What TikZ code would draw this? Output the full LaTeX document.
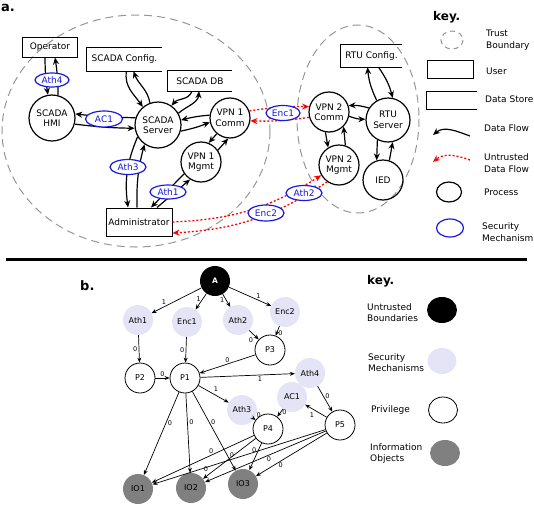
\documentclass[tikz,border=0pt]{standalone}
\usepackage{fontspec}
\setmainfont{DejaVu Sans}
\usetikzlibrary{arrows.meta,shapes.geometric}
\definecolor{secblue}{RGB}{25,25,225}
\definecolor{lav}{RGB}{228,228,246}
\definecolor{iogray}{RGB}{128,128,128}
\definecolor{bgray}{RGB}{150,150,150}
\begin{document}
\begin{tikzpicture}[x=1pt,y=-1pt,
  fa/.style={font=\fontsize{9}{10.5}\selectfont},
  proc/.style={circle,draw,line width=1.2pt,minimum size=40pt,inner sep=0pt,align=center,fa},
  userbox/.style={rectangle,draw,line width=1pt,inner sep=0pt,fa},
  storebox/.style={rectangle,inner sep=0pt,fa},
  secm/.style={ellipse,draw=secblue,line width=1.2pt,fill=white,text=secblue,inner sep=0pt,minimum width=35pt,minimum height=15pt,fa},
  flow/.style={-{Stealth[length=7pt,width=6pt]},line width=1.2pt},
  uflow/.style={-{Stealth[length=7pt,width=6pt]},draw=red,line width=1.3pt,dash pattern=on 2pt off 2pt},
  bound/.style={draw=bgray,line width=1pt,dash pattern=on 8pt off 5pt},
  keytxt/.style={anchor=west,align=left,inner sep=0pt,font=\fontsize{9}{11.5}\selectfont},
  keyhead/.style={anchor=west,inner sep=0pt,font=\fontsize{12}{13}\selectfont\bfseries},
  fb/.style={font=\fontsize{8}{9}\selectfont},
  bsec/.style={circle,fill=lav,minimum size=30pt,inner sep=0pt,fb},
  bproc/.style={circle,draw,fill=white,line width=0.8pt,minimum size=30pt,inner sep=0pt,fb},
  bio/.style={circle,fill=iogray,minimum size=30pt,inner sep=0pt,fb},
  bunt/.style={circle,fill=black,text=white,minimum size=30pt,inner sep=0pt,font=\fontsize{7.5}{8}\selectfont\bfseries},
  barr/.style={-{Stealth[length=5pt,width=4pt]},line width=0.7pt},
  lbl/.style={font=\fontsize{6.5}{7}\selectfont,inner sep=1.5pt}
]
\useasboundingbox (0,0) rectangle (534,506);

% ---------------- part a ----------------
\node[anchor=base west,inner sep=0pt,font=\fontsize{13}{14}\selectfont\bfseries] (alab) at (1,11) {a.};

\draw[bound] (136,131) ellipse [x radius=134, y radius=116];
\draw[bound] (358,119) ellipse [x radius=61, y radius=94];

\node[userbox,minimum width=55pt,minimum height=20pt] (op) at (50,47) {Operator};
\node[proc,minimum size=46pt] (hmi) at (52,118) {SCADA\\HMI};
\node[proc,minimum size=46pt] (srv) at (158,125) {SCADA\\Server};
\node[storebox,minimum width=75pt,minimum height=23pt] (cfg) at (124.5,59.5) {SCADA Config.};
\node[storebox,minimum width=64pt,minimum height=20pt] (db) at (200,81) {SCADA DB};
\node[proc] (c1) at (230,118) {VPN 1\\Comm};
\node[proc] (m1) at (201,162) {VPN 1\\Mgmt};
\node[userbox,minimum width=66pt,minimum height=28pt] (adm) at (139,222) {Administrator};
\node[proc] (c2) at (329,112) {VPN 2\\Comm};
\node[proc] (m2) at (339,165) {VPN 2\\Mgmt};
\node[proc,minimum size=44pt] (rs) at (388,120) {RTU\\Server};
\node[proc] (ied) at (383,180) {IED};
\node[storebox,minimum width=61pt,minimum height=22pt] (rcfg) at (371.5,56) {RTU Config.};

\draw[line width=1pt] (cfg.north east) -- (cfg.north west) -- (cfg.south west) -- (cfg.south east);
\draw[line width=1pt] (db.north east) -- (db.north west) -- (db.south west) -- (db.south east);
\draw[line width=1pt] (rcfg.north east) -- (rcfg.north west) -- (rcfg.south west) -- (rcfg.south east);

% flows
\draw[flow] ([xshift=-5pt]op.south) to[bend right=4] (hmi.100);
\draw[flow] (hmi.75) to[bend right=4] ([xshift=5pt]op.south);
\draw[flow] (srv.162) to[bend left=3] (hmi.10);
\draw[flow] (hmi.-15) to[bend right=3] (srv.-172);
\draw[flow] ([xshift=2pt]cfg.south) to[out=-100,in=125] (srv.130);
\draw[flow] (srv.110) to[out=100,in=-70] ([xshift=9pt]cfg.south);
\draw[flow] ([xshift=-8pt]db.south) to[out=-110,in=50] (srv.55);
\draw[flow] (srv.30) to[out=40,in=-95] ([xshift=-1pt]db.south);
\draw[flow] (c1.172) to[bend right=5] (srv.12);
\draw[flow] (srv.-15) to[bend right=5] (c1.-168);
\draw[flow] (c1.-130) -- (m1.68);
\draw[flow] (m1.35) -- (c1.-95);
\draw[flow] (srv.-150) to[bend right=15] ([xshift=-11pt]adm.north);
\draw[flow] ([xshift=-2pt]adm.north) to[bend left=8] (srv.-125);
\draw[flow] ([xshift=18pt]adm.north) -- (m1.-122);
\draw[flow] (m1.-145) -- ([xshift=12pt]adm.north);
\draw[uflow] (c1.20) to[bend left=5] (c2.165);
\draw[uflow] (c2.-165) to[bend left=5] (c1.-8);
\draw[uflow] (adm.east) to[bend right=15] (m2.-150);
\draw[uflow] (m2.-125) to[bend left=15] ([yshift=-11pt]adm.east);
\draw[flow] (rs.148) to[bend right=10] (c2.18);
\draw[flow] (c2.-12) to[bend right=10] (rs.178);
\draw[flow] (c2.-100) -- (m2.122);
\draw[flow] (m2.72) -- (c2.-45);
\draw[flow] (rs.120) to[bend left=10] ([xshift=-4pt]rcfg.south);
\draw[flow] ([xshift=7pt]rcfg.south) to[bend left=10] (rs.78);
\draw[flow] (rs.-118) -- (ied.108);
\draw[flow] (ied.72) -- (rs.-78);

% security mechanisms
\node[secm,minimum width=34pt,minimum height=14pt] (ath4) at (52,80) {Ath4};
\node[secm,minimum width=37pt,minimum height=16pt] (ac1) at (104,119) {AC1};
\node[secm,minimum width=36pt] (ath3) at (128,167) {Ath3};
\node[secm,minimum width=36pt,minimum height=14pt] (ath1) at (168,192) {Ath1};
\node[secm,minimum width=34pt] (enc1) at (283,113) {Enc1};
\node[secm,minimum width=36pt,minimum height=16pt] (enc2) at (266,213) {Enc2};
\node[secm,minimum width=36pt] (ath2) at (304,193) {Ath2};

% key a
\node[keyhead] (keya) at (433,17) {key.};
\draw[bound,dash pattern=on 5pt off 4pt] (452,40) ellipse [x radius=11, y radius=9];
\node[keytxt] (kt1) at (486,40) {Trust\\Boundary};
\node[draw,line width=1pt,minimum width=46pt,minimum height=18pt,inner sep=0pt] (kuser) at (450,69) {};
\node[keytxt] (kt2) at (486,71) {User};
\node[minimum width=50pt,minimum height=17pt,inner sep=0pt] (kstore) at (452,100.5) {};
\draw[line width=1pt] (kstore.north east) -- (kstore.north west) -- (kstore.south west) -- (kstore.south east);
\node[keytxt] (kt3) at (485,99) {Data Store};
\coordinate (kf1) at (470,136);
\coordinate (kf2) at (433,135);
\draw[flow] (kf1) to[out=160,in=40] (kf2);
\node[keytxt] (kt4) at (484,128) {Data Flow};
\coordinate (ku1) at (470,160);
\coordinate (ku2) at (433,162);
\draw[uflow] (ku1) to[out=160,in=40] (ku2);
\node[keytxt] (kt5) at (484,163) {Untrusted\\Data Flow};
\node[ellipse,draw,line width=1.2pt,minimum width=25pt,minimum height=20pt,inner sep=0pt] (kproc) at (449,192) {};
\node[keytxt] (kt6) at (484,192) {Process};
\node[ellipse,draw=secblue,line width=1.2pt,minimum width=27pt,minimum height=18pt,inner sep=0pt] (ksec) at (450,228) {};
\node[keytxt] (kt7) at (482,232) {Security\\Mechanism};

% separator
\coordinate (sepL) at (6,259);
\coordinate (sepR) at (527,259);
\draw[line width=3pt] (sepL) -- (sepR);

% ---------------- part b ----------------
\node[anchor=base west,inner sep=0pt,font=\fontsize{13}{14}\selectfont\bfseries] (blab) at (80,290) {b.};

\node[bunt] (bA) at (215,281) {A};
\node[bsec] (bAth1) at (138,320) {Ath1};
\node[bsec] (bEnc1) at (187,322) {Enc1};
\node[bsec] (bAth2) at (238,320) {Ath2};
\node[bsec] (bEnc2) at (285,312) {Enc2};
\node[bproc] (bP3) at (270,350) {P3};
\node[bproc] (bP2) at (140,378) {P2};
\node[bproc] (bP1) at (185,378) {P1};
\node[bsec] (bAth4) at (310,373) {Ath4};
\node[bsec] (bAC1) at (292,397) {AC1};
\node[bsec] (bAth3) at (242,410) {Ath3};
\node[bproc] (bP4) at (268,429) {P4};
\node[bproc] (bP5) at (340,425) {P5};
\node[bio] (bIO1) at (138,489) {IO1};
\node[bio] (bIO2) at (191,488) {IO2};
\node[bio] (bIO3) at (243,484) {IO3};

\draw[barr] (bA) -- node[lbl,pos=0.75,above] {1} (bAth1);
\draw[barr] (bA) -- node[lbl,pos=0.35,left] {1} (bEnc1);
\draw[barr] (bA) -- node[lbl,pos=0.45,left] {1} (bAth2);
\draw[barr] (bA) -- node[lbl,pos=0.7,above] {1} (bEnc2);
\draw[barr] (bAth1) -- node[lbl,pos=0.5,left] {0} (bP2);
\draw[barr] (bEnc1) -- node[lbl,pos=0.5,left] {0} (bP1);
\draw[barr] (bAth2) -- node[lbl,pos=0.6,below left] {0} (bP3);
\draw[barr] (bEnc2) -- node[lbl,pos=0.75,right] {0} (bP3);
\draw[barr] (bP3) -- node[lbl,pos=0.5,above] {0} (bP1);
\draw[barr] (bP2) -- node[lbl,pos=0.5,above] {0} (bP1);
\draw[barr] (bP1) -- node[lbl,pos=0.63,below] {1} (bAth4);
\draw[barr] (bP1) -- node[lbl,pos=0.45,above right] {1} (bAth3);
\draw[barr] (bAth4) -- node[lbl,pos=0.4,right] {0} (bP5);
\draw[barr] (bP5) -- node[lbl,pos=0.5,below left] {1} (bAC1);
\draw[barr] (bAC1) -- node[lbl,pos=0.4,right] {0} (bP4);
\draw[barr] (bAth3) -- node[lbl,pos=0.3,above right] {0} (bP4);
\draw[barr] (bP1) -- node[lbl,pos=0.37,right] {0} (bIO1);
\draw[barr] (bP1) -- node[lbl,pos=0.36,right] {0} (bIO2);
\draw[barr] (bP1) -- node[lbl,pos=0.39,right] {0} (bIO3);
\draw[barr] (bP4) -- node[lbl,pos=0.42,above] {0} (bIO1);
\draw[barr] (bP4) -- node[lbl,pos=0.87,above left] {0} (bIO2);
\draw[barr] (bP4) -- node[lbl,pos=0.28,left] {0} (bIO3);
\draw[barr] (bP5) -- node[lbl,pos=0.54,above] {0} (bIO1);
\draw[barr] (bP5) -- node[lbl,pos=0.47,below] {0} (bIO2);
\draw[barr] (bP5) -- node[lbl,pos=0.65,below] {0} (bIO3);

% key b
\node[keyhead] (keyb) at (367,281) {key.};
\node[keytxt] (kb1) at (367,312.5) {Untrusted\\Boundaries};
\node[ellipse,fill=black,minimum width=30pt,minimum height=26pt,inner sep=0pt] (kbu) at (442,310) {};
\node[keytxt] (kb2) at (368,362.5) {Security\\Mechanisms};
\node[ellipse,fill=lav,minimum width=29pt,minimum height=26pt,inner sep=0pt] (kbs) at (442,361) {};
\node[keytxt] (kb3) at (371,410) {Privilege};
\node[ellipse,draw,line width=0.8pt,minimum width=29pt,minimum height=26pt,inner sep=0pt] (kbp) at (443,410) {};
\node[keytxt] (kb4) at (370,453.5) {Information\\Objects};
\node[ellipse,fill=iogray,minimum width=30pt,minimum height=26pt,inner sep=0pt] (kbi) at (445,453) {};
\end{tikzpicture}
\end{document}
